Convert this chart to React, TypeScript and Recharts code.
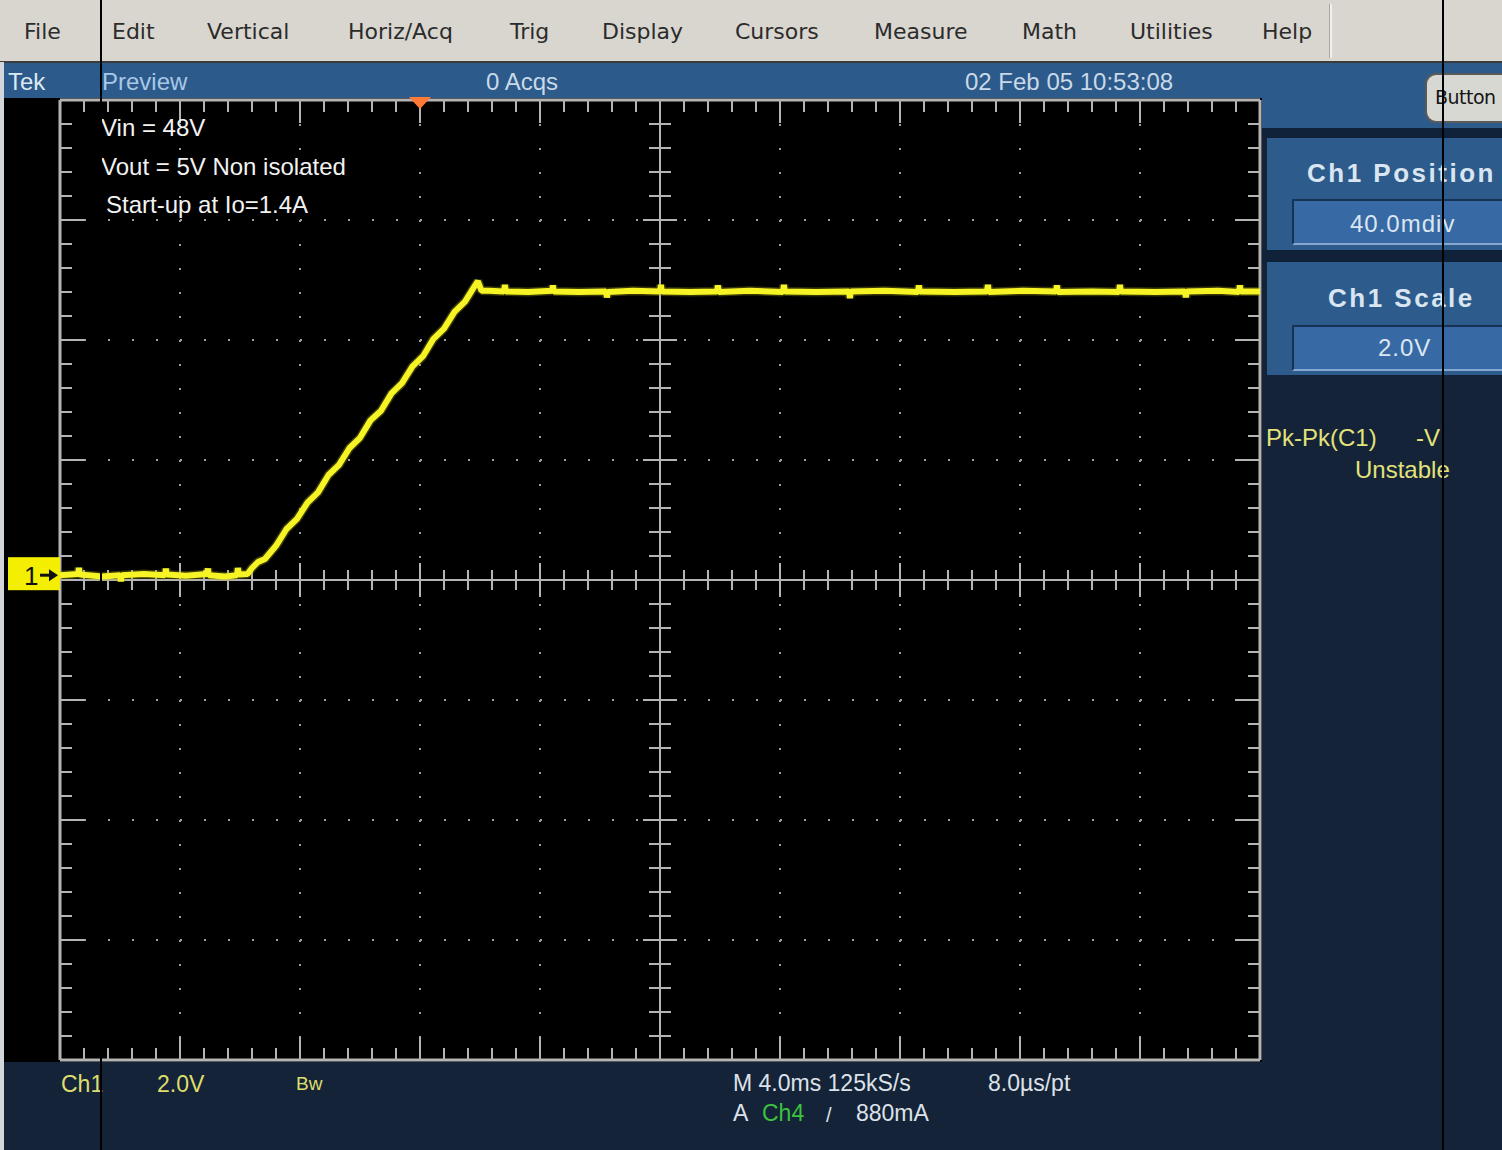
import React from 'react';
import {
  LineChart,
  Line,
  XAxis,
  YAxis,
  CartesianGrid,
  ReferenceLine,
  ReferenceDot
} from 'recharts';

// Ch1 output voltage during start-up: time in ms from the trigger, volts
const leadTime = [-12, -11.4, -11.37, -11.34, -10.6, -10.0, -9.97, -9.94, -9.2, -8.5, -8.47, -8.44, -7.8, -7.1, -7.07, -7.04, -6.5, -6.1, -6.07, -6.04, -5.75];
const leadVolts = [0, 0.02, 0.12, 0.01, -0.02, 0, -0.1, 0, 0.02, 0, 0.11, 0.01, -0.01, 0.02, 0.11, 0, -0.02, 0, 0.12, 0.01, 0.02];

const rampTime = [-5.6, -5.4, -5.17, -4.8, -4.45, -4.1, -3.75, -3.4, -3.05, -2.7, -2.35, -2.0, -1.65, -1.3, -0.95, -0.6, -0.25, 0.1, 0.45, 0.8, 1.15, 1.5, 1.8, 1.93, 2.05];
const rampVolts = [0.12, 0.22, 0.27, 0.49, 0.77, 0.94, 1.21, 1.38, 1.67, 1.84, 2.12, 2.29, 2.58, 2.74, 3.03, 3.2, 3.48, 3.65, 3.94, 4.11, 4.39, 4.56, 4.8, 4.9, 4.74];

const settledTime = [2.3, 2.8, 2.83, 2.86, 3.6, 4.4, 4.43, 4.46, 5.3, 6.2, 6.23, 6.26, 7.1, 8.0, 8.03, 8.06, 9.0, 9.9, 9.93, 9.96, 11.0, 12.1, 12.13, 12.16, 13.2, 14.3, 14.33, 14.36, 15.5, 16.6, 16.63, 16.66, 17.8, 18.9, 18.93, 18.96, 20.1, 21.2, 21.23, 21.26, 22.4, 23.3, 23.33, 23.36, 24.5, 25.5, 25.53, 25.56, 26.6, 27.3, 27.33, 27.36, 28];
const settledVolts = [4.74, 4.73, 4.84, 4.73, 4.72, 4.74, 4.83, 4.73, 4.72, 4.73, 4.63, 4.72, 4.74, 4.73, 4.84, 4.73, 4.72, 4.73, 4.83, 4.72, 4.74, 4.72, 4.84, 4.73, 4.72, 4.73, 4.62, 4.73, 4.74, 4.72, 4.83, 4.73, 4.72, 4.73, 4.84, 4.72, 4.74, 4.73, 4.83, 4.72, 4.73, 4.72, 4.84, 4.73, 4.72, 4.73, 4.63, 4.73, 4.74, 4.72, 4.83, 4.73, 4.73];

const menuItems = ['File', 'Edit', 'Vertical', 'Horiz/Acq', 'Trig', 'Display', 'Cursors', 'Measure', 'Math', 'Utilities', 'Help'];
const menuLeft = [24, 112, 207, 348, 510, 602, 735, 874, 1022, 1130, 1262];

const noteLines = ['Vin = 48V', 'Vout = 5V Non isolated', 'Start-up at Io=1.4A'];

// scope settings: 4.0 ms/div, 2.0 V/div, trigger 3 div from the left, Ch1 position 40 mdiv
const MS_PER_DIV = 4;
const V_PER_DIV = 2;
const T_MIN = -3 * MS_PER_DIV;
const T_MAX = 7 * MS_PER_DIV;
const CH1_OFFSET = 0.04 * V_PER_DIV;
const V_MIN = -4 * V_PER_DIV - CH1_OFFSET;
const V_MAX = 4 * V_PER_DIV - CH1_OFFSET;
const T_CENTER = (T_MIN + T_MAX) / 2;
const V_CENTER = (V_MIN + V_MAX) / 2;

const PLOT_W = 1200;
const PLOT_H = 960;
const MS_PER_PX = (T_MAX - T_MIN) / PLOT_W;
const V_PER_PX = (V_MAX - V_MIN) / PLOT_H;

const trace = [
  ...leadTime.map((t, i) => ({ t, v: leadVolts[i] })),
  ...rampTime.map((t, i) => ({ t, v: rampVolts[i] })),
  ...settledTime.map((t, i) => ({ t, v: settledVolts[i] }))
];

const divT = Array.from({ length: 9 }, (_, i) => T_MIN + (i + 1) * MS_PER_DIV);
const divV = Array.from({ length: 7 }, (_, i) => V_MIN + (i + 1) * V_PER_DIV);

// graticule minor ticks, 5 per division
const minorT = Array.from({ length: 49 }, (_, i) => ({ val: T_MIN + (i + 1) * MS_PER_DIV / 5, major: (i + 1) % 5 === 0 }));
const minorV = Array.from({ length: 39 }, (_, i) => ({ val: V_MIN + (i + 1) * V_PER_DIV / 5, major: (i + 1) % 5 === 0 }));

const GRAT = '#b4b4b4';

type Seg = [{ x: number; y: number }, { x: number; y: number }];

const tickSegments: Seg[] = [];
minorT.forEach(({ val, major }) => {
  const edge = (major ? 23 : 12) * V_PER_PX;
  const mid = (major ? 17 : 10) * V_PER_PX;
  tickSegments.push([{ x: val, y: V_MAX }, { x: val, y: V_MAX - edge }]);
  tickSegments.push([{ x: val, y: V_MIN }, { x: val, y: V_MIN + edge }]);
  if (Math.abs(val - T_CENTER) > 1e-6) {
    tickSegments.push([{ x: val, y: V_CENTER - mid }, { x: val, y: V_CENTER + mid }]);
  }
});
minorV.forEach(({ val, major }) => {
  const edge = (major ? 25 : 12) * MS_PER_PX;
  const mid = (major ? 17 : 11) * MS_PER_PX;
  tickSegments.push([{ x: T_MIN, y: val }, { x: T_MIN + edge, y: val }]);
  tickSegments.push([{ x: T_MAX - edge, y: val }, { x: T_MAX, y: val }]);
  if (Math.abs(val - V_CENTER) > 1e-6) {
    tickSegments.push([{ x: T_CENTER - mid, y: val }, { x: T_CENTER + mid, y: val }]);
  }
});

const ChannelMarker = (props: any) => {
  const { cx, cy } = props;
  return (
    <g>
      <rect x={cx - 52} y={cy - 18} width={52} height={33} fill="#f4ee00" />
      <text x={cx - 36} y={cy + 10} fontSize={26} fontFamily="Liberation Sans, Arial" fill="#111">1</text>
      <path d={`M${cx - 20} ${cy} H${cx - 8}`} stroke="#111" strokeWidth={3} />
      <path d={`M${cx - 11} ${cy - 6} L${cx - 2} ${cy} L${cx - 11} ${cy + 6} Z`} fill="#111" />
    </g>
  );
};

const TriggerMarker = (props: any) => {
  const { cx, cy } = props;
  return <path d={`M${cx - 11} ${cy - 3} L${cx + 11} ${cy - 3} L${cx} ${cy + 9} Z`} fill="#ff7a38" />;
};

interface TxtProps {
  x: number;
  base: number;
  size?: number;
  color?: string;
  bold?: boolean;
  spacing?: number;
  family?: string;
  children: React.ReactNode;
}

const Txt: React.FC<TxtProps> = ({ x, base, size = 24, color = '#f0f0f0', bold, spacing, family, children }) => (
  <div
    style={{
      position: 'absolute',
      left: x,
      top: base - Math.round(size * 0.85),
      fontSize: size,
      lineHeight: `${size}px`,
      color,
      fontWeight: bold ? 'bold' : 'normal',
      letterSpacing: spacing,
      fontFamily: family ?? '"Liberation Sans", Arial, sans-serif',
      whiteSpace: 'nowrap'
    }}
  >
    {children}
  </div>
);

const box = (left: number, top: number, width: number, height: number, extra: React.CSSProperties = {}): React.CSSProperties => ({
  position: 'absolute',
  left,
  top,
  width,
  height,
  ...extra
});

const App: React.FC = () => {
  return (
    <div style={box(0, 0, 1502, 1150, { overflow: 'hidden', background: '#142337' })}>
      {/* menu bar */}
      <div style={box(0, 0, 1502, 61, { background: '#d9d6d0', borderBottom: '2px solid #3c3c3c' })} />
      <div style={box(1329, 4, 2, 54, { background: '#f2f0ec', borderLeft: '1px solid #a8a6a0' })} />
      {menuItems.map((m, i) => (
        <Txt key={m} x={menuLeft[i]} base={40} size={22} color="#2b2b2b" family='"DejaVu Sans", sans-serif'>
          {m}
        </Txt>
      ))}

      {/* status bar and side panel */}
      <div style={box(0, 63, 1502, 35, { background: '#2c5a8a' })} />
      <div style={box(1262, 98, 240, 30, { background: '#2c5a8a' })} />
      <div style={box(1262, 128, 240, 10, { background: '#10213a' })} />
      <div style={box(1267, 138, 235, 112, { background: '#2d5b8c' })} />
      <div style={box(1262, 250, 240, 12, { background: '#10213a' })} />
      <div style={box(1267, 262, 235, 113, { background: '#2d5b8c' })} />
      <div style={box(1292, 199, 212, 42, { background: '#3769a4', borderTop: '2px solid #163354', borderLeft: '2px solid #163354', borderBottom: '2px solid #86a8d0' })} />
      <div style={box(1292, 325, 212, 42, { background: '#3769a4', borderTop: '2px solid #163354', borderLeft: '2px solid #163354', borderBottom: '2px solid #86a8d0' })} />
      <div style={box(1425, 73, 100, 46, { background: '#d8d8d2', border: '2px solid #5a5a5a', borderRadius: 11 })} />
      <Txt x={1435} base={104} size={19} spacing={-0.5} color="#151515" family='"DejaVu Sans", sans-serif'>Button</Txt>

      <Txt x={8} base={90} color="#dde9f2">Tek</Txt>
      <Txt x={102} base={90} color="#a9c8e6">Preview</Txt>
      <Txt x={486} base={90} color="#c9d9e8">0 Acqs</Txt>
      <Txt x={965} base={90} color="#c9d9e8">02 Feb 05 10:53:08</Txt>

      <Txt x={1307} base={182} size={26} bold spacing={2.5} color="#d9e5f0">Ch1 Position</Txt>
      <Txt x={1350} base={232} color="#dbe6f0" spacing={1}>40.0mdiv</Txt>
      <Txt x={1328} base={307} size={26} bold spacing={2.5} color="#d9e5f0">Ch1 Scale</Txt>
      <Txt x={1378} base={356} color="#dbe6f0" spacing={1}>2.0V</Txt>

      <Txt x={1266} base={446} color="#e2e27a">Pk-Pk(C1)</Txt>
      <Txt x={1416} base={446} color="#e2e27a">-V</Txt>
      <Txt x={1355} base={478} color="#e2e27a">Unstable</Txt>

      {/* scope screen */}
      <div style={box(0, 62, 4, 1088, { background: '#d2d6da' })} />
      <div style={box(4, 98, 1258, 964, { background: '#000' })} />
      <div style={box(0, 0, 1262, 1062)}>
        <LineChart width={1262} height={1062} data={trace} margin={{ top: 100, left: 60, right: 2, bottom: 2 }}>
          <XAxis type="number" dataKey="t" domain={[T_MIN, T_MAX]} allowDataOverflow hide />
          <YAxis type="number" domain={[V_MIN, V_MAX]} allowDataOverflow hide />
          <CartesianGrid
            verticalValues={divT}
            horizontalValues={divV}
            stroke="#9c9c9c"
            strokeWidth={2}
            strokeDasharray="2 22"
          />
          {tickSegments.map((seg, i) => (
            <ReferenceLine key={`tk-${i}`} segment={seg} stroke={GRAT} strokeWidth={2} ifOverflow="visible" />
          ))}
          <ReferenceLine x={T_CENTER} stroke={GRAT} strokeWidth={2} />
          <ReferenceLine y={V_CENTER} stroke={GRAT} strokeWidth={2} />
          <ReferenceLine x={T_MIN} stroke={GRAT} strokeWidth={3} />
          <ReferenceLine x={T_MAX} stroke={GRAT} strokeWidth={3} />
          <ReferenceLine y={V_MIN} stroke={GRAT} strokeWidth={3} />
          <ReferenceLine y={V_MAX} stroke={GRAT} strokeWidth={3} />
          <Line
            type="linear"
            dataKey="v"
            stroke="#a0a010"
            strokeOpacity={0.35}
            strokeWidth={9}
            dot={false}
            isAnimationActive={false}
            strokeLinejoin="bevel"
          />
          <Line
            type="linear"
            dataKey="v"
            stroke="#f6f424"
            strokeWidth={6}
            dot={false}
            isAnimationActive={false}
            strokeLinejoin="bevel"
          />
          <ReferenceDot x={T_MIN} y={0} shape={ChannelMarker} ifOverflow="visible" />
          <ReferenceDot x={0} y={V_MAX} shape={TriggerMarker} ifOverflow="visible" />
        </LineChart>
      </div>

      {noteLines.map((n, i) => (
        <Txt key={n} x={i === 2 ? 106 : 101} base={136 + i * 38.5} color="#f2f2f2">
          {n}
        </Txt>
      ))}

      {/* readout strip */}
      <Txt x={61} base={1093} size={23} color="#dede6c">Ch1</Txt>
      <Txt x={157} base={1093} size={23} color="#dede6c">2.0V</Txt>
      <Txt x={296} base={1090} size={19} color="#dede6c">Bw</Txt>
      <Txt x={733} base={1092} size={23} color="#dce2ea">M 4.0ms 125kS/s</Txt>
      <Txt x={988} base={1092} size={23} color="#dce2ea">8.0µs/pt</Txt>
      <Txt x={733} base={1122} size={23} color="#dce2ea">A</Txt>
      <Txt x={762} base={1122} size={23} color="#3cc23c">Ch4</Txt>
      <Txt x={826} base={1122} size={20} color="#dce2ea">/</Txt>
      <Txt x={856} base={1122} size={23} color="#dce2ea">880mA</Txt>

      {/* thin black rules across the screen */}
      <div style={box(100, 0, 2, 1150, { background: '#000' })} />
      <div style={box(1442, 0, 2, 1150, { background: '#000' })} />
    </div>
  );
};

export default App;
